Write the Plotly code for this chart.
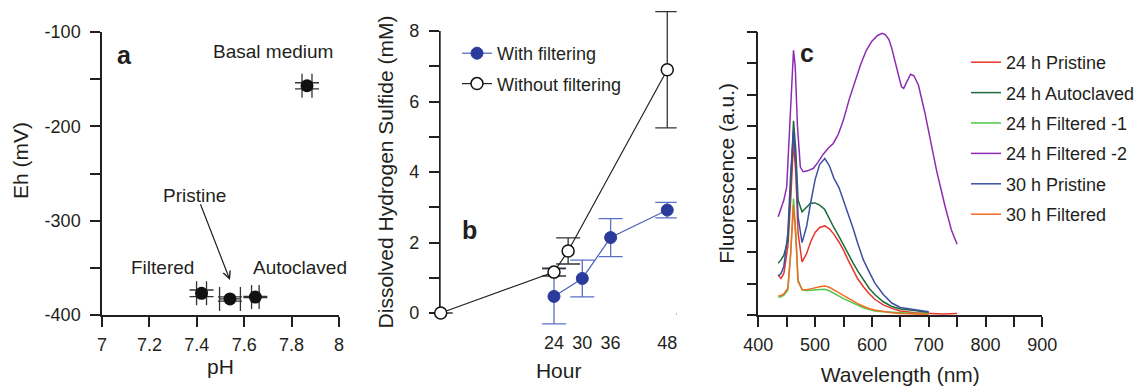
import plotly.graph_objects as go

W, H = 1142, 387
OFF = 8  # page body margin
FW, FH = W - OFF, H - OFF
FONT = "Liberation Sans, Arial, sans-serif"
INK = "#231f20"

# ---------------- Panel a: Eh vs pH ----------------
a_labels = ["Basal medium", "Filtered", "Pristine", "Autoclaved"]
a_ph = [7.865, 7.42, 7.54, 7.647]
a_eh = [-157, -377, -383, -381]
a_ph_err = [0.021, 0.021, 0.044, 0.016]
a_eh_err = [3.2, 3.5, 2.3, 0.6]
a_xticks = [7, 7.2, 7.4, 7.6, 7.8, 8]
a_xticktext = ["7", "7.2", "7.4", "7.6", "7.8", "8"]
a_yticks = [-400, -300, -200, -100]
a_yticktext = ["-400", "-300", "-200", "-100"]

# ---------------- Panel b: dissolved H2S ----------------
b_hours_with = [24, 30, 36, 48]
b_h2s_with = [0.47, 0.98, 2.14, 2.92]
b_h2s_with_err = [0.78, 0.52, 0.54, 0.22]
b_hours_without = [0, 24, 27, 48]
b_h2s_without = [0.0, 1.16, 1.76, 6.9]
b_h2s_without_err = [0.0, 0.11, 0.37, 1.65]
b_xticks = [24, 30, 36, 48]

# ---------------- Panel c: fluorescence spectra ----------------
wl = [435, 440, 445, 452, 457, 462, 466, 470, 477, 485, 492, 500, 508, 517, 525,
      533, 542, 550, 558, 567, 575, 585, 595, 605, 620, 635, 650, 675, 700, 725, 750]
f_24_pristine = [1.27, 1.16, 1.32, 2.17, 3.65, 5.5, 4.5, 2.6, 1.69, 1.95, 2.32, 2.62, 2.78, 2.83, 2.74,
                 2.57, 2.32, 2.06, 1.75, 1.43, 1.15, 0.9, 0.68, 0.5, 0.32, 0.21, 0.13, 0.07, 0.04, 0.03, 0.05]
f_24_autoclaved = [1.64, 1.75, 1.9, 2.38, 4.07, 6.17, 5.24, 3.65, 3.28, 3.42, 3.55, 3.56, 3.49, 3.35, 3.05,
                   2.78, 2.5, 2.22, 1.95, 1.65, 1.4, 1.11, 0.85, 0.65, 0.42, 0.27, 0.19, 0.14, 0.08, None, None]
f_24_filtered1 = [0.56, 0.58, 0.63, 0.79, 1.96, 3.7, 2.6, 1.11, 0.8, 0.78, 0.79, 0.8, 0.82, 0.82, 0.77,
                  0.7, 0.6, 0.52, 0.45, 0.38, 0.3, 0.23, 0.18, 0.13, 0.1, 0.08, 0.06, 0.05, 0.05, None, None]
f_30_pristine = [1.24, 1.32, 1.55, 2.6, 4.5, 5.84, 4.9, 3.12, 2.3, 2.81, 3.55, 4.3, 4.78, 4.97, 4.75,
                 4.35, 4.05, 3.65, 3.2, 2.75, 2.28, 1.75, 1.38, 1.02, 0.65, 0.38, 0.24, 0.16, 0.1, None, None]
f_30_filtered = [0.6, 0.62, 0.67, 0.85, 1.96, 3.49, 2.49, 1.06, 0.81, 0.8, 0.83, 0.87, 0.9, 0.92, 0.88,
                 0.8, 0.7, 0.62, 0.53, 0.44, 0.36, 0.28, 0.2, 0.16, 0.11, 0.07, 0.05, 0.03, 0.02, None, None]
wl_f2 = [435, 445, 450, 457, 460, 462, 465, 469, 474, 479, 487, 497, 505, 514, 523, 532, 541, 550,
         560, 570, 580, 590, 600, 610, 618, 624, 630, 635, 644, 652, 656, 662, 668, 674, 682, 693, 702,
         714, 729, 740, 750]
f_24_filtered2 = [3.12, 3.65, 4.07, 6.5, 7.9, 8.41, 7.9, 5.98, 4.7, 4.55, 4.58, 4.66, 4.85, 5.1, 5.3,
                  5.45, 5.75, 6.2, 6.85, 7.4, 7.95, 8.4, 8.7, 8.88, 8.95, 8.9, 8.75, 8.47, 7.83, 7.25,
                  7.2, 7.45, 7.65, 7.6, 7.3, 6.45, 5.6, 4.58, 3.44, 2.7, 2.25]
c_series = [
    ("24 h Pristine", wl, f_24_pristine, "#e8352b"),
    ("24 h Autoclaved", wl, f_24_autoclaved, "#1b6b3b"),
    ("24 h Filtered -1", wl, f_24_filtered1, "#50c64a"),
    ("24 h Filtered -2", wl_f2, f_24_filtered2, "#8e2bb3"),
    ("30 h Pristine", wl, f_30_pristine, "#3c4fa5"),
    ("30 h Filtered", wl, f_30_filtered, "#f36b23"),
]


def fx(px):
    return (px - OFF) / FW


def fy(py):
    return 1 - (py - OFF) / FH


# panel b pixel layout: y=0 at 313 px, y=8 at 31 px
B_Y0, B_Y8 = 313, 31
PXU = (B_Y0 - B_Y8) / 8
B_LO, B_HI = -0.5, 8.64  # overlay range so error bars are not clipped

fig = go.Figure()

# ---- panel a
fig.add_trace(go.Scatter(
    x=a_ph, y=a_eh, mode="markers", xaxis="x", yaxis="y", showlegend=False,
    marker=dict(size=13, color="#111111"),
    error_x=dict(type="data", array=a_ph_err, width=12, thickness=1.3, color="#333333"),
    error_y=dict(type="data", array=a_eh_err, width=12, thickness=1.3, color="#333333"),
    cliponaxis=False,
))

# ---- panel b
fig.add_trace(go.Scatter(
    x=b_hours_with, y=b_h2s_with, mode="lines+markers", xaxis="x2", yaxis="y4",
    name="With filtering", legend="legend", legendgroup="w",
    line=dict(color="#4d62b8", width=1.2),
    marker=dict(size=12, color="#2b3b9b", line=dict(color="#2b3b9b", width=1)),
    error_y=dict(type="data", array=b_h2s_with_err, width=12, thickness=1.3, color="#5a6fc4"),
    cliponaxis=False,
))
fig.add_trace(go.Scatter(
    x=b_hours_without, y=b_h2s_without, mode="lines+markers", xaxis="x2", yaxis="y4",
    name="Without filtering", legend="legend", legendgroup="wo",
    line=dict(color="#222222", width=1.2),
    marker=dict(size=12, color="white", line=dict(color="#111111", width=1.5)),
    error_y=dict(type="data", array=b_h2s_without_err, width=12, thickness=1.3, color="#333333"),
    cliponaxis=False,
))

# ---- panel c
for name, xs, ys, col in c_series:
    fig.add_trace(go.Scatter(
        x=xs, y=ys, mode="lines", xaxis="x3", yaxis="y3", name=name,
        legend="legend2", legendgroup=name,
        line=dict(color=col, width=1.5), connectgaps=False,
    ))

axis_common = dict(
    showline=True, linecolor=INK, linewidth=1.5, ticks="outside", ticklen=10,
    tickwidth=1.5, tickcolor=INK, showgrid=False, zeroline=False, automargin=False,
    tickfont=dict(family=FONT, size=18, color=INK),
    title_font=dict(family=FONT, size=21, color=INK),
)
minor_common = dict(ticks="outside", ticklen=10, tickwidth=1.5, tickcolor=INK)

fig.update_layout(
    width=FW, height=FH, margin=dict(l=0, r=0, t=0, b=0),
    paper_bgcolor="white", plot_bgcolor="white",
    font=dict(family=FONT, color=INK),
    xaxis=dict(domain=[fx(102), fx(339)], range=[7, 8], tickvals=a_xticks,
               ticktext=a_xticktext, anchor="y", title_text="pH", title_standoff=5,
               ticklabelstandoff=3, **axis_common),
    yaxis=dict(domain=[fy(315), fy(32)], range=[-400, -100], tickvals=a_yticks,
               ticktext=a_yticktext, anchor="x", ticklabelstandoff=6,
               minor=dict(dtick=50, **minor_common), **axis_common),
    xaxis2=dict(domain=[fx(440.7), fx(676.7)], range=[0, 50], tickvals=b_xticks,
                anchor="y2", title_text="Hour", title_standoff=11, ticklabelstandoff=3,
                **axis_common),
    yaxis2=dict(domain=[fy(B_Y0), fy(B_Y8)], range=[0, 8], dtick=2, anchor="x2",
                ticklabelstandoff=6, minor=dict(dtick=1, **minor_common),
                title_text="Dissolved Hydrogen Sulfide (mM)", title_standoff=10, **axis_common),
    yaxis4=dict(domain=[fy(B_Y0 - B_LO * PXU), fy(B_Y8 - (B_HI - 8) * PXU)],
                range=[B_LO, B_HI], anchor="x2", visible=False, showgrid=False,
                zeroline=False, automargin=False),
    xaxis3=dict(domain=[fx(758.3), fx(1042.3)], range=[400, 900], dtick=100, anchor="y3",
                minor=dict(dtick=50, **minor_common), ticklabelstandoff=3,
                title_text="Wavelength (nm)", title_standoff=13, **axis_common),
    yaxis3=dict(domain=[fy(315), fy(31.7)], range=[0, 9], dtick=1, anchor="x3",
                showticklabels=False, title_text="Fluorescence (a.u.)", title_standoff=6,
                **axis_common),
    legend=dict(x=fx(457), y=fy(35), xanchor="left", yanchor="top",
                font=dict(family=FONT, size=18, color=INK), bgcolor="rgba(0,0,0,0)",
                traceorder="grouped", tracegroupgap=4),
    legend2=dict(x=fx(966), y=fy(44), xanchor="left", yanchor="top",
                 font=dict(family=FONT, size=18, color=INK), bgcolor="rgba(0,0,0,0)",
                 traceorder="grouped", tracegroupgap=4),
)

ann_font = dict(family=FONT, size=19, color=INK)
fig.add_annotation(x=7.72, y=-121, xref="x", yref="y", text="Basal medium", showarrow=False, font=ann_font)
fig.add_annotation(x=7.392, y=-273, xref="x", yref="y", text="Pristine", showarrow=False, font=ann_font)
fig.add_annotation(x=7.257, y=-350, xref="x", yref="y", text="Filtered", showarrow=False, font=ann_font)
fig.add_annotation(x=7.835, y=-350, xref="x", yref="y", text="Autoclaved", showarrow=False, font=ann_font)
fig.add_annotation(x=7.54, y=-363, xref="x", yref="y", ax=7.413, ay=-281, axref="x", ayref="y",
                   text="", showarrow=True, arrowhead=5, arrowsize=1.2, arrowwidth=1.2, arrowcolor=INK)
fig.add_annotation(x=fx(20), y=fy(161), xref="paper", yref="paper", text="Eh (mV)",
                   xanchor="center", yanchor="middle", textangle=-90, showarrow=False,
                   font=dict(family=FONT, size=21, color=INK))

lab_font = dict(family=FONT, size=25, color=INK)
fig.add_annotation(x=7.093, y=-124, xref="x", yref="y", text="<b>a</b>", showarrow=False, font=lab_font)
fig.add_annotation(x=6.2, y=2.35, xref="x2", yref="y2", text="<b>b</b>", showarrow=False, font=lab_font)
fig.add_annotation(x=485, y=8.33, xref="x3", yref="y3", text="<b>c</b>", showarrow=False, font=lab_font)

fig.write_html("out.html")
